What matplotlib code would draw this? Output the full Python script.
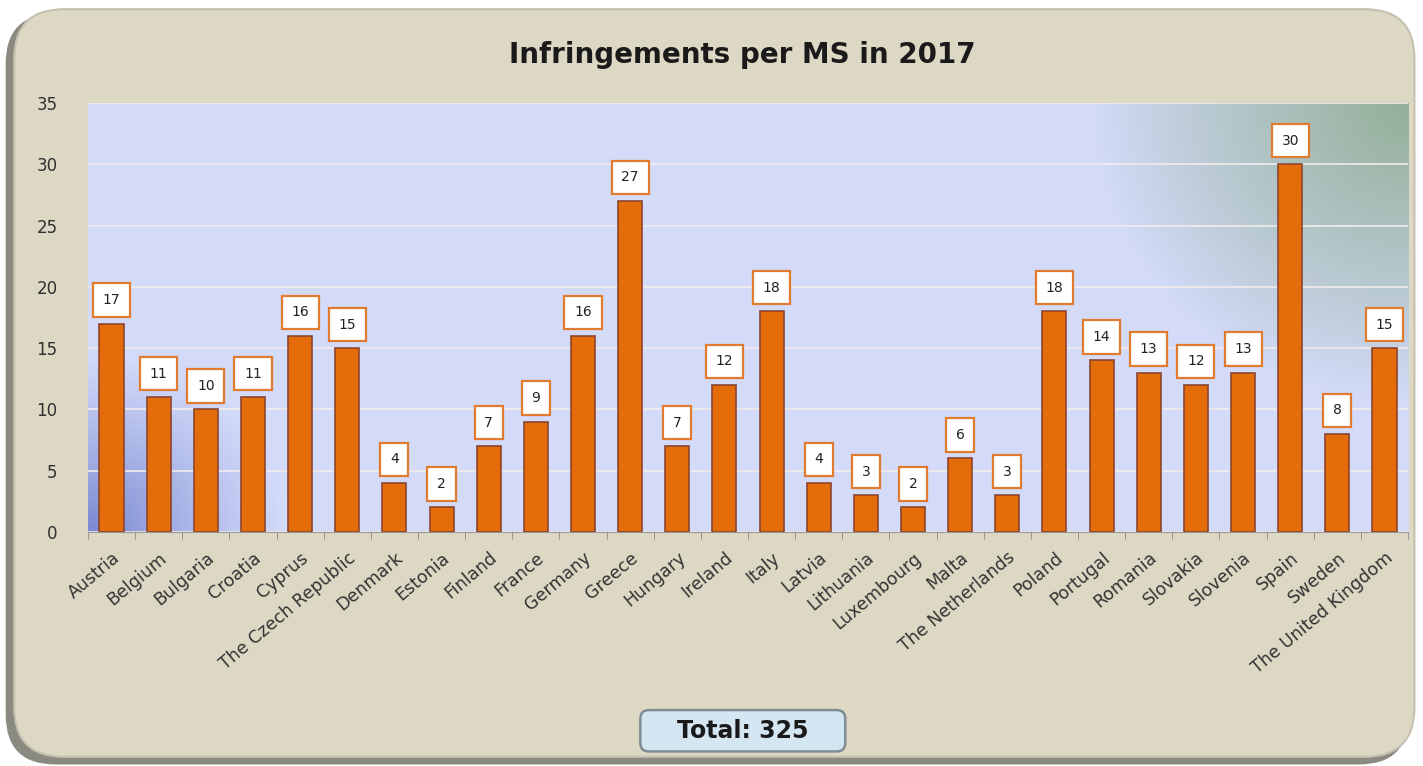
import numpy as np
import matplotlib
matplotlib.use('Agg')
import matplotlib.pyplot as plt
from matplotlib.patches import FancyBboxPatch

countries = ['Austria', 'Belgium', 'Bulgaria', 'Croatia', 'Cyprus', 'The Czech Republic',
             'Denmark', 'Estonia', 'Finland', 'France', 'Germany', 'Greece', 'Hungary',
             'Ireland', 'Italy', 'Latvia', 'Lithuania', 'Luxembourg', 'Malta',
             'The Netherlands', 'Poland', 'Portugal', 'Romania', 'Slovakia', 'Slovenia',
             'Spain', 'Sweden', 'The United Kingdom']
infringements = [17, 11, 10, 11, 16, 15, 4, 2, 7, 9, 16, 27, 7, 12, 18, 4, 3, 2, 6, 3,
                 18, 14, 13, 12, 13, 30, 8, 15]
y_ticks = [0, 5, 10, 15, 20, 25, 30, 35]
title = 'Infringements per MS in 2017'
total_text = 'Total: 325'

plt.rcParams['font.family'] = ['DejaVu Sans']

fig = plt.figure(figsize=(14.23, 7.66), dpi=100)
fig.patch.set_facecolor('white')
asp = 1423 / 766

# rounded panel with shadow on the left/bottom
shadow = FancyBboxPatch((0.004, 0.002), 0.986, 0.98, boxstyle='round,pad=0,rounding_size=0.035',
                        transform=fig.transFigure, facecolor='#8a8a80', edgecolor='none',
                        mutation_aspect=asp, zorder=0)
panel = FancyBboxPatch((0.010, 0.012), 0.984, 0.976, boxstyle='round,pad=0,rounding_size=0.035',
                       transform=fig.transFigure, facecolor='#dcd8c4', edgecolor='#c4c1b0',
                       linewidth=1.5, mutation_aspect=asp, zorder=0)
# box behind the total
total_box = FancyBboxPatch((0.450, 0.019), 0.144, 0.054, boxstyle='round,pad=0,rounding_size=0.006',
                           transform=fig.transFigure, facecolor='#d3e6f2', edgecolor='#7f8c95',
                           linewidth=1.8, mutation_aspect=asp, zorder=1)
fig.patches.extend([shadow, panel, total_box])

ax = fig.add_axes([0.0618, 0.3055, 0.9277, 0.56])
ax.set_zorder(2)
ax.set_facecolor('none')

# background gradient of the plot area
gx, gy = np.meshgrid(np.linspace(0, 1, 300), np.linspace(0, 1, 200))
base = np.array([0.83, 0.86, 0.98])
blue = np.array([0.48, 0.54, 0.82])
green = np.array([0.58, 0.69, 0.60])
w_bl = np.clip(1 - np.hypot(gx / 0.15, gy / 0.42), 0, 1) ** 1.1
w_tr = np.clip(1 - np.hypot((1 - gx) / 0.24, (1 - gy) / 0.7), 0, 1) ** 0.9
img = base * (1 - w_bl[..., None] - w_tr[..., None]) + blue * w_bl[..., None] + green * w_tr[..., None]
ax.imshow(img, extent=[0, 1, 0, 1], transform=ax.transAxes, origin='lower',
          aspect='auto', zorder=0)

x = np.arange(len(countries))
ax.bar(x, infringements, width=0.51, color='#e46c0a', edgecolor='#8c4630', linewidth=1.2, zorder=3)

for xi, v in zip(x, infringements):
    ax.annotate(str(v), (xi, v), xytext=(0, 17), textcoords='offset points',
                ha='center', va='center', fontsize=10, color='#222222', zorder=5,
                bbox=dict(boxstyle='square,pad=0.7', facecolor='white', edgecolor='#e07b30', linewidth=1.6))

ax.set_xlim(-0.5, len(countries) - 0.5)
ax.set_ylim(0, 35)
ax.set_yticks(y_ticks)
ax.set_yticklabels([str(t) for t in y_ticks], fontsize=12, color='#303030')
ax.yaxis.grid(True, color='#f2ecec', linewidth=1.2, zorder=1)
ax.set_axisbelow(True)
ax.tick_params(axis='y', length=0, pad=22)

ax.set_xticks(x)
ax.set_xticklabels(countries, rotation=40, ha='right', rotation_mode='anchor',
                   fontsize=12.5, color='#333333')
ax.set_xticks(np.arange(len(countries) + 1) - 0.5, minor=True)
ax.tick_params(axis='x', which='major', length=0, pad=12)
ax.tick_params(axis='x', which='minor', length=5, color='#888888', direction='out')

for s in ['top', 'right', 'left']:
    ax.spines[s].set_visible(False)
ax.spines['bottom'].set_color('#999999')

fig.text(0.522, 0.928, title, ha='center', va='center', fontsize=20, fontweight='bold', color='#1a1a1a')
fig.text(0.522, 0.046, total_text, ha='center', va='center', fontsize=17, fontweight='bold',
         color='#1a1a1a', zorder=3)

fig.savefig('out.png', dpi=100)
